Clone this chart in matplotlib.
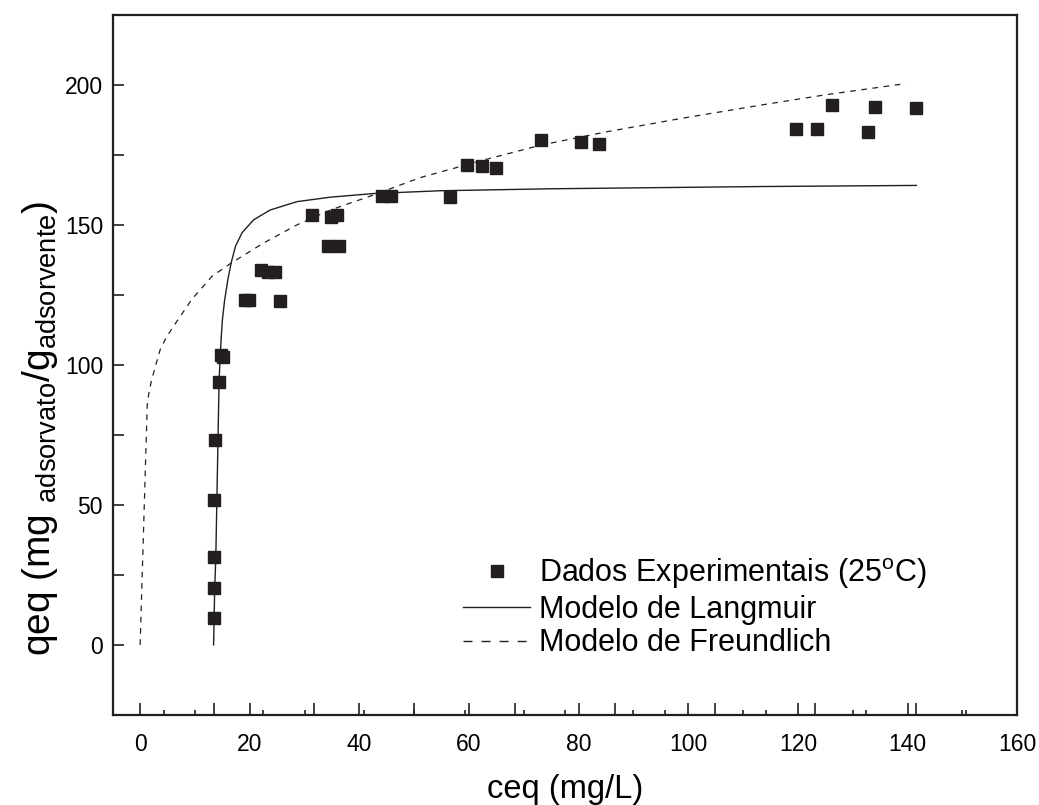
import matplotlib
matplotlib.use("Agg")
import matplotlib.pyplot as plt
from matplotlib.lines import Line2D

plt.rcParams["font.family"] = ["Liberation Sans", "DejaVu Sans"]
plt.rcParams["mathtext.default"] = "regular"

# experimental points (ceq, qeq)
ceq_exp = [13.4, 13.4, 13.4, 13.5, 13.7, 14.4, 14.7, 15.1,
           19.1, 19.9, 25.6, 22.0, 23.3, 24.6, 31.4, 34.9, 35.9,
           34.2, 36.3, 44.1, 45.7, 56.5, 59.7, 62.4, 65.0,
           73.2, 80.4, 83.7, 119.6, 123.4, 126.3, 132.8, 134.0, 141.6]
qeq_exp = [9.7, 20.4, 31.3, 51.9, 73.1, 93.9, 103.5, 102.8,
           123.4, 123.2, 123.0, 134.0, 133.3, 133.3, 153.7, 153.0, 153.5,
           142.7, 142.7, 160.5, 160.5, 160.2, 171.5, 171.3, 170.6,
           180.6, 179.8, 178.9, 184.5, 184.5, 193.1, 183.4, 192.2, 191.7]

# Langmuir fit curve
lang_x = [13.4, 13.5, 13.6, 13.8, 14.0, 14.2, 14.4, 14.6, 14.8, 15.0, 15.4,
          16.0, 16.6, 17.4, 18.6, 20.7, 23.7, 28.6, 34.7, 42.6, 54.8, 75.0, 98.6,
          113.2, 141.6]
lang_y = [0, 10, 20, 31, 52, 73, 94, 103, 110, 116, 123,
          130.5, 136.5, 142.5, 147.3, 151.9, 155.4, 158.4, 160.0, 161.3, 162.3, 163.0, 163.5,
          163.8, 164.2]

# Freundlich fit curve
freund_x = [0, 1.3, 1.6, 2.1, 3.0, 3.65, 4.8, 6.1, 9.4, 13.1, 16.4, 22.5, 28.6,
            34.7, 42.6, 51.1, 63.3, 73.1, 85.2, 98.6, 113.2, 125.4, 139.7]
freund_y = [0, 86, 90, 94.8, 101, 105.5, 110, 113.9, 123.4, 131.7, 136.2, 143.6, 150.1,
            155.4, 160.8, 167.0, 173.6, 178.6, 183.4, 188.1, 192.9, 196.7, 200.6]

x_major = [0, 20, 40, 60, 80, 100, 120, 140, 160]
x_minor = [10, 30, 50, 70, 90, 110, 130, 150]
# second tick set drawn on the bottom axis
x2_major = [13.4, 31.7, 50.0, 68.3, 86.6, 104.9, 123.2, 141.5]
x2_minor = [4.3, 22.5, 40.8, 59.2, 77.5, 95.8, 114.1, 132.4, 150.7]
y_major = [0, 50, 100, 150, 200]
y_minor = [-25, 25, 75, 125, 175]

ink = "#231f20"

fig = plt.figure(figsize=(10.39, 8.05), dpi=100)
ax = fig.add_axes([0.1085, 0.112, 0.8705, 0.869])

pts, = ax.plot(ceq_exp, qeq_exp, linestyle="none", marker="s", markersize=9,
               color=ink, zorder=3)
lang, = ax.plot(lang_x, lang_y, color=ink, lw=1.0)
ax.plot(freund_x, freund_y, color=ink, lw=0.9, dashes=(4.5, 4.5))

ax.set_xlim(-5, 160)
ax.set_ylim(-25, 225)

ax.set_xticks(x_major)
ax.set_xticks(x_minor, minor=True)
ax.set_yticks(y_major)
ax.set_yticks(y_minor, minor=True)

for s in ax.spines.values():
    s.set_linewidth(1.6)
    s.set_color(ink)

ax.tick_params(axis="x", which="major", direction="in", length=8.6, width=1.2,
               pad=13, labelsize=16.5, top=False, color=ink)
ax.tick_params(axis="x", which="minor", direction="in", length=3.6, width=1.2,
               top=False, color=ink)
ax.tick_params(axis="y", which="both", direction="in", length=8, width=1.2,
               pad=7, labelsize=16.5, right=False, color=ink)
ax.tick_params(axis="y", which="minor", length=8)

ax2 = ax.twiny()
ax2.set_xlim(ax.get_xlim())
ax2.xaxis.set_ticks_position("bottom")
ax2.set_xticks(x2_major)
ax2.set_xticks(x2_minor, minor=True)
ax2.tick_params(axis="x", which="major", direction="in", length=8.6, width=1.2,
                labelbottom=False, labeltop=False, color=ink)
ax2.tick_params(axis="x", which="minor", direction="in", length=3.6, width=1.2,
                color=ink)
for s in ax2.spines.values():
    s.set_visible(False)

ax.set_xlabel("ceq (mg/L)", fontsize=23.5, labelpad=13)
ax.set_ylabel("qeq (mg $_{adsorvato}$/g$_{adsorvente}$)", fontsize=28)
ax.yaxis.set_label_coords(-0.058, 0.41)

# legend keeps a coarser dash than the plotted curve
freund_key = Line2D([], [], color=ink, lw=1.0, dashes=(6.5, 6.5))
ax.legend([pts, lang, freund_key],
          ["Dados Experimentais (25$^{o}$C)", "Modelo de Langmuir",
           "Modelo de Freundlich"],
          loc="upper left", bbox_to_anchor=(0.4456, 0.309),
          bbox_transform=fig.transFigure, frameon=False, fontsize=22,
          handlelength=2.2, handletextpad=0.28, labelspacing=0.12,
          borderpad=0, borderaxespad=0)

fig.savefig("out.png", dpi=100)
